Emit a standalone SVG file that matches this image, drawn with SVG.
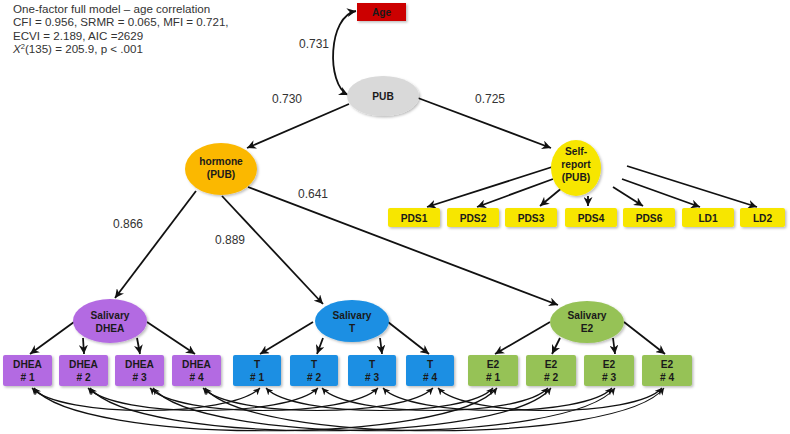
<svg xmlns="http://www.w3.org/2000/svg" width="790" height="434" viewBox="0 0 790 434">
<style>
  text { font-family: "Liberation Sans", Arial, sans-serif; }
  .hdr { font-size: 11.6px; fill: #333; }
  .lbl { font-size: 12px; fill: #333; }
  .nt { font-size: 10.2px; font-weight: bold; fill: #1a1a1a; text-anchor: middle; }
  .ln { stroke: #111; stroke-width: 1.8; fill: none; marker-end: url(#ah); }
  .cv { stroke: #111; stroke-width: 1.2; fill: none; marker-start: url(#ah2); marker-end: url(#ah2); }
  .dhea { fill: #b36ae2; }
  .t { fill: #1a8fe3; }
  .e2 { fill: #96c257; }
  .pds { fill: #f7e600; }
</style>
<defs>
  <marker id="ah" viewBox="0 0 10 10" refX="10" refY="5" markerWidth="9" markerHeight="9" markerUnits="userSpaceOnUse" orient="auto-start-reverse">
    <path d="M0,0 L10,5 L0,10 L3,5 z" fill="#111"/>
  </marker>
  <marker id="ah2" viewBox="0 0 10 10" refX="10" refY="5" markerWidth="7" markerHeight="7" markerUnits="userSpaceOnUse" orient="auto-start-reverse">
    <path d="M0,0 L10,5 L0,10 L3,5 z" fill="#111"/>
  </marker>
  <filter id="sh" x="-20%" y="-20%" width="140%" height="150%">
    <feDropShadow dx="1.5" dy="1.5" stdDeviation="1.2" flood-color="#000" flood-opacity="0.25"/>
  </filter>
</defs>
<rect width="790" height="434" fill="#fff"/>

<g id="fit-stats">
  <text class="hdr" x="13" y="12.5">One-factor full model – age correlation</text>
  <text class="hdr" x="13" y="26">CFI = 0.956, SRMR = 0.065, MFI = 0.721,</text>
  <text class="hdr" x="13" y="39.5">ECVI = 2.189, AIC =2629</text>
  <text class="hdr" x="13" y="53"><tspan font-style="italic">X</tspan><tspan font-size="7.5" dy="-4">2</tspan><tspan dy="4">(135) = 205.9, p &lt; .001</tspan></text>
</g>

<g id="connectors">
  <path d="M356,11 C328,16 326,84 348,95" style="stroke:#111;stroke-width:1.8;fill:none;marker-start:url(#ah);marker-end:url(#ah)"/>
  <line class="ln" x1="349" y1="104" x2="247" y2="148"/>
  <line class="ln" x1="418" y1="98" x2="551" y2="148"/>
  <line class="ln" x1="196" y1="191" x2="115" y2="298"/>
  <line class="ln" x1="222" y1="196" x2="323" y2="304"/>
  <line class="ln" x1="248" y1="187" x2="558" y2="305"/>
  <!-- self-report indicators -->
  <line class="ln" x1="552" y1="167" x2="427" y2="207"/>
  <line class="ln" x1="553" y1="179" x2="477" y2="207"/>
  <line class="ln" x1="563" y1="187" x2="540" y2="206"/>
  <line class="ln" x1="588" y1="196" x2="588" y2="206"/>
  <line class="ln" x1="613" y1="187" x2="643" y2="206"/>
  <line class="ln" x1="622" y1="179" x2="700" y2="207"/>
  <line class="ln" x1="627" y1="166" x2="757" y2="207"/>
  <!-- DHEA indicators -->
  <line class="ln" x1="74" y1="322" x2="30" y2="354"/>
  <line class="ln" x1="83" y1="338" x2="84" y2="354"/>
  <line class="ln" x1="137" y1="338" x2="140" y2="354"/>
  <line class="ln" x1="147" y1="322" x2="195" y2="354"/>
  <!-- T indicators -->
  <line class="ln" x1="313" y1="322" x2="260" y2="354"/>
  <line class="ln" x1="323" y1="338" x2="317" y2="354"/>
  <line class="ln" x1="380" y1="338" x2="382" y2="354"/>
  <line class="ln" x1="388" y1="322" x2="429" y2="354"/>
  <!-- E2 indicators -->
  <line class="ln" x1="550" y1="322" x2="495" y2="354"/>
  <line class="ln" x1="560" y1="338" x2="552" y2="354"/>
  <line class="ln" x1="613" y1="338" x2="615" y2="354"/>
  <line class="ln" x1="624" y1="322" x2="665" y2="354"/>
  <!-- correlated residuals: DHEA-T -->
  <path class="cv" d="M32,388 C60,418 230,418 260,388"/>
  <path class="cv" d="M88,388 C116,418 288,418 318,388"/>
  <path class="cv" d="M150,388 C178,418 348,418 378,388"/>
  <path class="cv" d="M203,388 C231,418 403,418 433,388"/>
  <!-- T-E2 -->
  <path class="cv" d="M266,388 C294,418 467,418 493,388"/>
  <path class="cv" d="M322,388 C350,418 520,418 548,388"/>
  <path class="cv" d="M383,388 C411,418 585,418 612,388"/>
  <path class="cv" d="M438,388 C466,418 635,418 662,388"/>
  <!-- DHEA-E2 -->
  <path class="cv" d="M34,388 C80,445 450,445 497,388"/>
  <path class="cv" d="M90,388 C136,445 505,445 551,388"/>
  <path class="cv" d="M153,388 C199,445 570,445 615,388"/>
  <path class="cv" d="M205,388 C251,445 620,445 664,388"/>
</g>

<g id="edge-labels">
  <text class="lbl" x="299" y="48">0.731</text>
  <text class="lbl" x="272" y="103">0.730</text>
  <text class="lbl" x="475" y="103">0.725</text>
  <text class="lbl" x="298" y="198">0.641</text>
  <text class="lbl" x="113" y="228">0.866</text>
  <text class="lbl" x="215" y="244">0.889</text>
</g>

<g id="age"><rect x="357" y="3" width="49" height="18" fill="#cc0000" filter="url(#sh)"/><text class="nt" x="381.5" y="16" fill="#3a0000">Age</text></g>
<g id="pub"><ellipse cx="383" cy="96" rx="36" ry="20" fill="#d9d9d9" filter="url(#sh)"/><text class="nt" x="383" y="100">PUB</text></g>
<g id="hormone"><ellipse cx="221" cy="169" rx="36" ry="26" fill="#fbb800" filter="url(#sh)"/><text class="nt" x="221" y="165">hormone</text><text class="nt" x="221" y="178">(PUB)</text></g>
<g id="self-report"><ellipse cx="576" cy="168" rx="25" ry="28" fill="#f7e600" filter="url(#sh)"/><text class="nt" x="576" y="155">Self-</text><text class="nt" x="576" y="168">report</text><text class="nt" x="576" y="181">(PUB)</text></g>

<g id="pds1"><rect class="pds" x="388" y="208" width="52" height="19" rx="2" filter="url(#sh)"/><text class="nt" x="414" y="221.5">PDS1</text></g>
<g id="pds2"><rect class="pds" x="447" y="208" width="52" height="19" rx="2" filter="url(#sh)"/><text class="nt" x="473" y="221.5">PDS2</text></g>
<g id="pds3"><rect class="pds" x="505" y="208" width="52" height="19" rx="2" filter="url(#sh)"/><text class="nt" x="531" y="221.5">PDS3</text></g>
<g id="pds4"><rect class="pds" x="565" y="208" width="52" height="19" rx="2" filter="url(#sh)"/><text class="nt" x="591" y="221.5">PDS4</text></g>
<g id="pds6"><rect class="pds" x="623" y="208" width="52" height="19" rx="2" filter="url(#sh)"/><text class="nt" x="649" y="221.5">PDS6</text></g>
<g id="ld1"><rect class="pds" x="682" y="208" width="52" height="19" rx="2" filter="url(#sh)"/><text class="nt" x="708" y="221.5">LD1</text></g>
<g id="ld2"><rect class="pds" x="740" y="208" width="45" height="19" rx="2" filter="url(#sh)"/><text class="nt" x="762.5" y="221.5">LD2</text></g>

<g id="salivary-dhea"><ellipse class="dhea" cx="110" cy="321" rx="37" ry="22" filter="url(#sh)"/><text class="nt" x="110" y="319">Salivary</text><text class="nt" x="110" y="332">DHEA</text></g>
<g id="salivary-t"><ellipse class="t" cx="352" cy="321" rx="37" ry="21" filter="url(#sh)"/><text class="nt" x="352" y="319">Salivary</text><text class="nt" x="352" y="332">T</text></g>
<g id="salivary-e2"><ellipse class="e2" cx="587" cy="322" rx="37" ry="21" filter="url(#sh)"/><text class="nt" x="587" y="319">Salivary</text><text class="nt" x="587" y="332">E2</text></g>

<g id="dhea1"><rect class="dhea" x="3" y="355" width="49" height="31" rx="2" filter="url(#sh)"/><text class="nt" x="27.5" y="368">DHEA</text><text class="nt" x="27.5" y="381"># 1</text></g>
<g id="dhea2"><rect class="dhea" x="59" y="355" width="49" height="31" rx="2" filter="url(#sh)"/><text class="nt" x="83.5" y="368">DHEA</text><text class="nt" x="83.5" y="381"># 2</text></g>
<g id="dhea3"><rect class="dhea" x="115" y="355" width="49" height="31" rx="2" filter="url(#sh)"/><text class="nt" x="139.5" y="368">DHEA</text><text class="nt" x="139.5" y="381"># 3</text></g>
<g id="dhea4"><rect class="dhea" x="172" y="355" width="49" height="31" rx="2" filter="url(#sh)"/><text class="nt" x="196.5" y="368">DHEA</text><text class="nt" x="196.5" y="381"># 4</text></g>

<g id="t1"><rect class="t" x="233" y="355" width="48" height="31" rx="2" filter="url(#sh)"/><text class="nt" x="257" y="368">T</text><text class="nt" x="257" y="381"># 1</text></g>
<g id="t2"><rect class="t" x="290" y="355" width="48" height="31" rx="2" filter="url(#sh)"/><text class="nt" x="314" y="368">T</text><text class="nt" x="314" y="381"># 2</text></g>
<g id="t3"><rect class="t" x="348" y="355" width="48" height="31" rx="2" filter="url(#sh)"/><text class="nt" x="372" y="368">T</text><text class="nt" x="372" y="381"># 3</text></g>
<g id="t4"><rect class="t" x="406" y="355" width="48" height="31" rx="2" filter="url(#sh)"/><text class="nt" x="430" y="368">T</text><text class="nt" x="430" y="381"># 4</text></g>

<g id="e2-1"><rect class="e2" x="468" y="355" width="50" height="31" rx="2" filter="url(#sh)"/><text class="nt" x="493" y="368">E2</text><text class="nt" x="493" y="381"># 1</text></g>
<g id="e2-2"><rect class="e2" x="526" y="355" width="50" height="31" rx="2" filter="url(#sh)"/><text class="nt" x="551" y="368">E2</text><text class="nt" x="551" y="381"># 2</text></g>
<g id="e2-3"><rect class="e2" x="584" y="355" width="50" height="31" rx="2" filter="url(#sh)"/><text class="nt" x="609" y="368">E2</text><text class="nt" x="609" y="381"># 3</text></g>
<g id="e2-4"><rect class="e2" x="642" y="355" width="50" height="31" rx="2" filter="url(#sh)"/><text class="nt" x="667" y="368">E2</text><text class="nt" x="667" y="381"># 4</text></g>
</svg>
